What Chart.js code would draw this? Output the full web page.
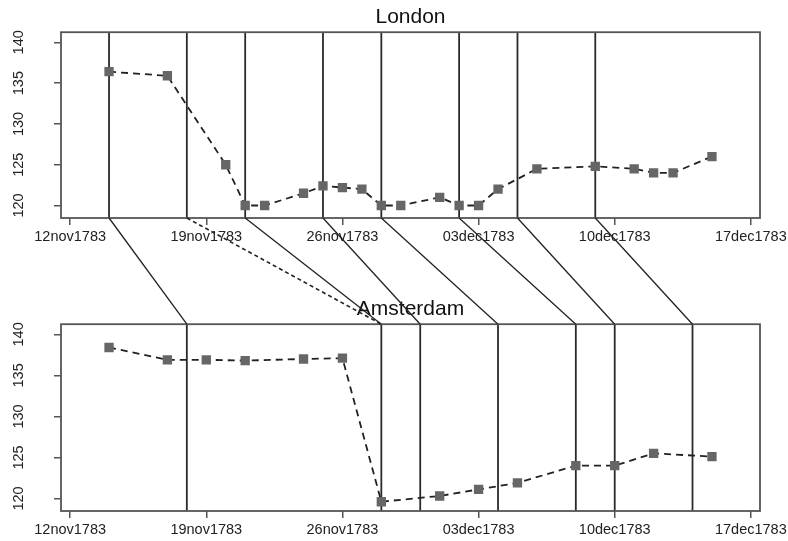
<!DOCTYPE html>
<html>
<head>
<meta charset="utf-8">
<title>London and Amsterdam, Nov-Dec 1783</title>
<script src="https://cdn.jsdelivr.net/npm/chart.js@4.4.1/dist/chart.umd.min.js"></script>
<style>
  html, body { margin: 0; padding: 0; background: #ffffff; }
  #wrap { position: relative; width: 788px; height: 541px; overflow: hidden; }
  #londonChart { position: absolute; left: 0; top: 0; }
  #amsterdamChart { position: absolute; left: 0; top: 292px; }
  #links { position: absolute; left: 0; top: 0; pointer-events: none; }
</style>
</head>
<body>
<div id="wrap">
  <canvas id="londonChart" width="788" height="260"></canvas>
  <canvas id="amsterdamChart" width="788" height="249"></canvas>
  <canvas id="links" width="788" height="541"></canvas>
</div>
<script>
// === Data ===
const xTickLabels = ["12nov1783", "19nov1783", "26nov1783", "03dec1783", "10dec1783", "17dec1783"];
const yTicks = [120, 125, 130, 135, 140];

const londonDates = ["14nov1783", "17nov1783", "20nov1783", "21nov1783", "22nov1783", "24nov1783",
  "25nov1783", "26nov1783", "27nov1783", "28nov1783", "29nov1783", "01dec1783", "02dec1783",
  "03dec1783", "04dec1783", "06dec1783", "09dec1783", "11dec1783", "12dec1783", "13dec1783", "15dec1783"];
const londonValues = [136.4, 135.9, 125.0, 120.0, 120.0, 121.5, 122.4, 122.2, 122.0, 120.0, 120.0,
  121.0, 120.0, 120.0, 122.0, 124.5, 124.8, 124.5, 124.0, 124.0, 126.0];

const amsterdamDates = ["14nov1783", "17nov1783", "19nov1783", "21nov1783", "24nov1783", "26nov1783",
  "28nov1783", "01dec1783", "03dec1783", "05dec1783", "08dec1783", "10dec1783", "12dec1783", "15dec1783"];
const amsterdamValues = [138.4, 136.9, 136.9, 136.8, 137.0, 137.1, 119.6, 120.3, 121.1, 121.9,
  124.0, 124.0, 125.5, 125.1];

// vertical markers in each panel, and which London date links to which Amsterdam date
const londonMarks = ["14nov1783", "18nov1783", "21nov1783", "25nov1783", "28nov1783", "02dec1783", "05dec1783", "09dec1783"];
const amsterdamMarks = ["18nov1783", "28nov1783", "30nov1783", "04dec1783", "08dec1783", "10dec1783", "14dec1783"];
const linkTo = ["18nov1783", "28nov1783", "28nov1783", "30nov1783", "04dec1783", "08dec1783", "10dec1783", "14dec1783"];
const linkDashed = [false, true, false, false, false, false, false, false];

const FONT = "'Liberation Sans', Arial, sans-serif";
const MONTHS = { nov: 10, dec: 11 };

// === Turn "14nov1783" into days after 12nov1783 ===
function dayOf(label) {
  const d = +label.slice(0, 2);
  const m = MONTHS[label.slice(2, 5)];
  const y = +label.slice(5);
  return Math.round((Date.UTC(y, m, d) - Date.UTC(1783, 10, 12)) / 86400000);
}

const xTickDays = xTickLabels.map(dayOf);

// === Plugin: frame, vertical marker lines and rotated y labels ===
function panelPlugin(marks) {
  return {
    id: "panelDecor",
    beforeDatasetsDraw(chart) {
      const { ctx, chartArea } = chart;
      const x = chart.scales.x;
      ctx.save();
      ctx.strokeStyle = "#2a2a2a";
      ctx.lineWidth = 1.8;
      marks.forEach((m) => {
        const px = x.getPixelForValue(dayOf(m));
        ctx.beginPath();
        ctx.moveTo(px, chartArea.top);
        ctx.lineTo(px, chartArea.bottom);
        ctx.stroke();
      });
      ctx.restore();
    },
    afterDraw(chart) {
      const { ctx, chartArea } = chart;
      const y = chart.scales.y;
      ctx.save();
      ctx.strokeStyle = "#555";
      ctx.lineWidth = 1.8;
      ctx.strokeRect(chartArea.left, chartArea.top, chartArea.right - chartArea.left, chartArea.bottom - chartArea.top);

      ctx.fillStyle = "#222";
      ctx.font = "14.5px " + FONT;
      ctx.textAlign = "center";
      ctx.textBaseline = "middle";
      yTicks.forEach((v) => {
        ctx.save();
        ctx.translate(y.right - 42, y.getPixelForValue(v));
        ctx.rotate(-Math.PI / 2);
        ctx.fillText(String(v), 0, 0);
        ctx.restore();
      });
      ctx.restore();
    },
  };
}

// === Build one panel ===
function makePanel(canvasId, title, dates, values, marks, xAxisHeight) {
  return new Chart(document.getElementById(canvasId), {
    type: "line",
    data: {
      datasets: [
        {
          label: title,
          data: dates.map((d, i) => ({ x: dayOf(d), y: values[i] })),
          borderColor: "#222",
          borderWidth: 1.8,
          borderDash: [7, 5],
          pointStyle: "rect",
          pointRadius: 6.6,
          pointBackgroundColor: "#666",
          pointBorderColor: "#666",
          pointBorderWidth: 0,
          tension: 0,
        },
      ],
    },
    options: {
      responsive: false,
      animation: false,
      events: [],
      layout: { padding: { left: 0, right: 28, top: 0, bottom: 0 } },
      plugins: {
        legend: { display: false },
        tooltip: { enabled: false },
        title: {
          display: true,
          fullSize: false,
          text: title,
          color: "#111",
          font: { family: FONT, size: 21, weight: "normal", lineHeight: 1.2 },
          padding: { top: 5, bottom: 2 },
        },
      },
      scales: {
        x: {
          type: "linear",
          min: -0.47,
          max: 35.47,
          afterBuildTicks: (s) => { s.ticks = xTickDays.map((v) => ({ value: v })); },
          afterFit: (s) => { s.height = xAxisHeight; s.paddingLeft = 0; s.paddingRight = 0; },
          grid: { drawOnChartArea: false, tickLength: 7, color: "#555", lineWidth: 1.5 },
          border: { display: false },
          ticks: {
            color: "#222",
            font: { family: FONT, size: 14.5 },
            padding: 3,
            minRotation: 0,
            maxRotation: 0,
            autoSkip: false,
            callback: (v) => xTickLabels[xTickDays.indexOf(v)],
          },
        },
        y: {
          type: "linear",
          min: 118.47,
          max: 141.24,
          afterBuildTicks: (s) => { s.ticks = yTicks.map((v) => ({ value: v })); },
          afterFit: (s) => { s.width = 61; s.paddingTop = 0; s.paddingBottom = 0; },
          grid: { drawOnChartArea: false, tickLength: 7, color: "#555", lineWidth: 1.5 },
          border: { display: false },
          ticks: { color: "rgba(0,0,0,0)", font: { family: FONT, size: 14 } },
        },
      },
    },
    plugins: [panelPlugin(marks)],
  });
}

const londonChart = makePanel("londonChart", "London", londonDates, londonValues, londonMarks, 42);
const amsterdamChart = makePanel("amsterdamChart", "Amsterdam", amsterdamDates, amsterdamValues, amsterdamMarks, 30);

// === Lines linking the London markers to the Amsterdam markers ===
function drawLinks() {
  const canvas = document.getElementById("links");
  const ctx = canvas.getContext("2d");
  const lTop = document.getElementById("londonChart").offsetTop;
  const aTop = document.getElementById("amsterdamChart").offsetTop;
  const y0 = lTop + londonChart.chartArea.bottom;
  const y1 = aTop + amsterdamChart.chartArea.top;

  ctx.strokeStyle = "#222";
  londonMarks.forEach((from, i) => {
    const x0 = londonChart.scales.x.getPixelForValue(dayOf(from));
    const x1 = amsterdamChart.scales.x.getPixelForValue(dayOf(linkTo[i]));
    ctx.beginPath();
    ctx.lineWidth = linkDashed[i] ? 1.6 : 1.3;
    ctx.setLineDash(linkDashed[i] ? [4, 3] : []);
    ctx.moveTo(x0, y0);
    ctx.lineTo(x1, y1);
    ctx.stroke();
  });
}

drawLinks();
</script>
</body>
</html>
